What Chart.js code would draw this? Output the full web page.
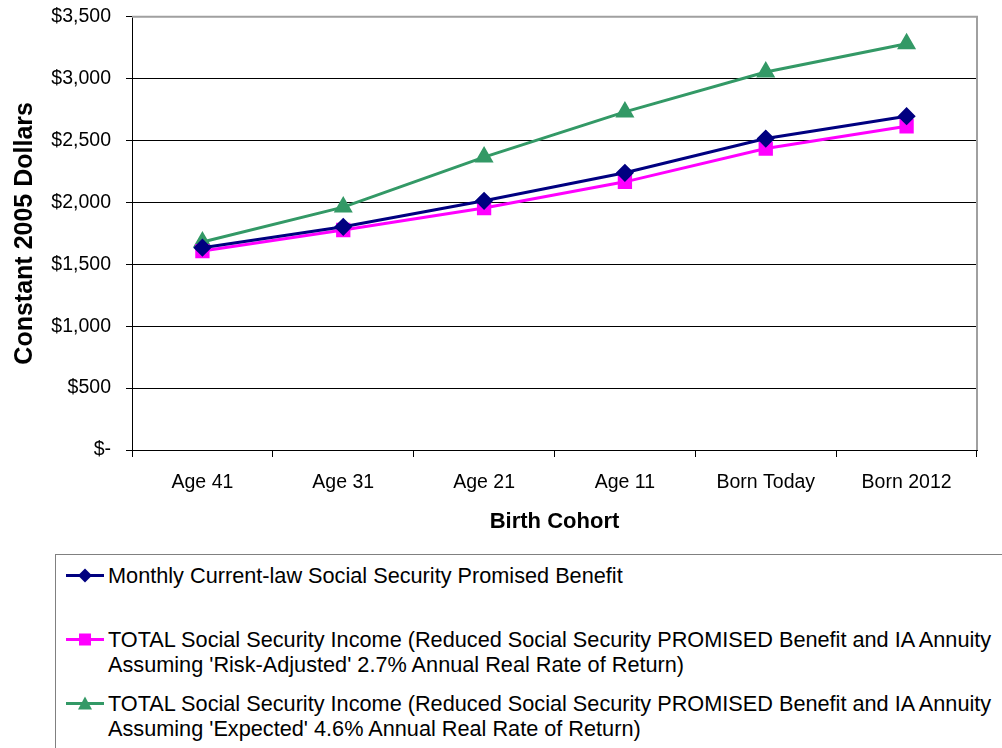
<!DOCTYPE html>
<html>
<head>
<meta charset="utf-8">
<style>
  html, body { margin: 0; padding: 0; background: #fff; }
  body { width: 1002px; height: 748px; overflow: hidden; position: relative; font-family: "Liberation Sans", Arial, sans-serif; }
  #chartBox { position: absolute; left: 0; top: -10px; width: 1002px; height: 555px; }
  #legend { position: absolute; left: 55px; top: 554px; width: 1000px; height: 210px; border: 1px solid #808080; box-sizing: border-box; padding-top: 8px; }
  .leg-item { display: flex; align-items: flex-start; height: 64px; }
  .leg-mark { width: 52px; height: 25px; flex: none; }
  .leg-text { font-size: 21.7px; line-height: 25px; color: #000; white-space: pre; }
</style>
</head>
<body>
<div id="chartBox"><canvas id="chart"></canvas></div>
<div id="legend"></div>

<script src="https://cdn.jsdelivr.net/npm/chart.js"></script>
<script>
  // Values
  const cohorts = ['Age 41', 'Age 31', 'Age 21', 'Age 11', 'Born Today', 'Born 2012'];
  const promisedBenefit = [1634, 1803, 2013, 2239, 2516, 2696];
  const riskAdjusted = [1607, 1777, 1954, 2166, 2435, 2615];
  const expectedReturn = [1680, 1962, 2366, 2731, 3053, 3282];
  const yTicks = [0, 500, 1000, 1500, 2000, 2500, 3000, 3500];

  const seriesLabels = [
    'Monthly Current-law Social Security Promised Benefit',
    'TOTAL Social Security Income (Reduced Social Security PROMISED Benefit and IA Annuity\nAssuming \'Risk-Adjusted\' 2.7% Annual Real Rate of Return)',
    'TOTAL Social Security Income (Reduced Social Security PROMISED Benefit and IA Annuity\nAssuming \'Expected\' 4.6% Annual Real Rate of Return)'
  ];

  const fontFamily = '"Liberation Sans", Arial, sans-serif';

  function money(v) {
    if (v === 0) return '$-';
    return '$' + v.toLocaleString('en-US');
  }

  // gray frame on the top and right of the plot area
  const plotFrame = {
    id: 'plotFrame',
    afterDraw(chart) {
      const { ctx, chartArea } = chart;
      ctx.save();
      ctx.strokeStyle = '#a0a0a0';
      ctx.lineWidth = 2;
      ctx.beginPath();
      ctx.moveTo(chartArea.left, chartArea.top);
      ctx.lineTo(chartArea.right, chartArea.top);
      ctx.lineTo(chartArea.right, chartArea.bottom);
      ctx.stroke();
      ctx.restore();
    }
  };

  const ctx = document.getElementById('chart').getContext('2d');
  const chart = new Chart(ctx, {
    type: 'line',
    data: {
      labels: cohorts,
      datasets: [
        {
          label: seriesLabels[0],
          data: promisedBenefit,
          borderColor: '#000080',
          backgroundColor: '#000080',
          borderWidth: 3,
          pointStyle: 'rectRot',
          pointRadius: 7,
          pointHoverRadius: 7,
          tension: 0
        },
        {
          label: seriesLabels[1],
          data: riskAdjusted,
          borderColor: '#ff00ff',
          backgroundColor: '#ff00ff',
          borderWidth: 3,
          pointStyle: 'rect',
          pointRadius: 8,
          pointHoverRadius: 8,
          tension: 0
        },
        {
          label: seriesLabels[2],
          data: expectedReturn,
          borderColor: '#339966',
          backgroundColor: '#339966',
          borderWidth: 3,
          pointStyle: 'triangle',
          pointRadius: 8,
          pointHoverRadius: 8,
          tension: 0
        }
      ]
    },
    options: {
      responsive: true,
      maintainAspectRatio: false,
      animation: false,
      layout: { padding: { top: 4, right: 25, bottom: 0, left: 0 } },
      plugins: {
        legend: { display: false },
        tooltip: { enabled: false }
      },
      scales: {
        x: {
          offset: true,
          grid: { offset: true, drawOnChartArea: false, drawTicks: true, tickLength: 7, color: '#000' },
          border: { color: '#000', width: 1 },
          ticks: { color: '#000', padding: 14, font: { family: fontFamily, size: 19.5 } },
          title: { display: true, text: 'Birth Cohort', color: '#000', padding: { top: 12, bottom: 10 }, font: { family: fontFamily, size: 22, weight: 'bold' } },
          afterFit(scale) { scale.height = 95; }
        },
        y: {
          min: 0,
          max: 3500,
          afterBuildTicks(scale) { scale.ticks = yTicks.map(v => ({ value: v })); },
          grid: { color: '#000', tickLength: 6 },
          border: { color: '#000', width: 1 },
          ticks: { color: '#000', padding: 15, font: { family: fontFamily, size: 19.5 }, callback: v => money(v) },
          title: { display: true, text: 'Constant 2005 Dollars', color: '#000', padding: { top: 10, bottom: 0 }, font: { family: fontFamily, size: 25, weight: 'bold' } },
          afterFit(scale) { scale.width = 132; }
        }
      }
    },
    plugins: [plotFrame]
  });

  // legend built from the chart's datasets
  function markerSvg(ds) {
    const c = ds.borderColor;
    let shape = '';
    if (ds.pointStyle === 'rectRot') {
      shape = `<polygon points="29,5.5 36,12.5 29,19.5 22,12.5" fill="${c}"/>`;
    } else if (ds.pointStyle === 'rect') {
      shape = `<rect x="23" y="6.5" width="12" height="12" fill="${c}"/>`;
    } else {
      shape = `<polygon points="29,5.5 36,18.5 22,18.5" fill="${c}"/>`;
    }
    return `<svg class="leg-mark" viewBox="0 0 52 25"><line x1="10" y1="12.5" x2="48" y2="12.5" stroke="${c}" stroke-width="3"/>${shape}</svg>`;
  }

  const legend = document.getElementById('legend');
  chart.data.datasets.forEach(ds => {
    const item = document.createElement('div');
    item.className = 'leg-item';
    item.innerHTML = markerSvg(ds) + `<div class="leg-text">${ds.label}</div>`;
    legend.appendChild(item);
  });
</script>
</body>
</html>
